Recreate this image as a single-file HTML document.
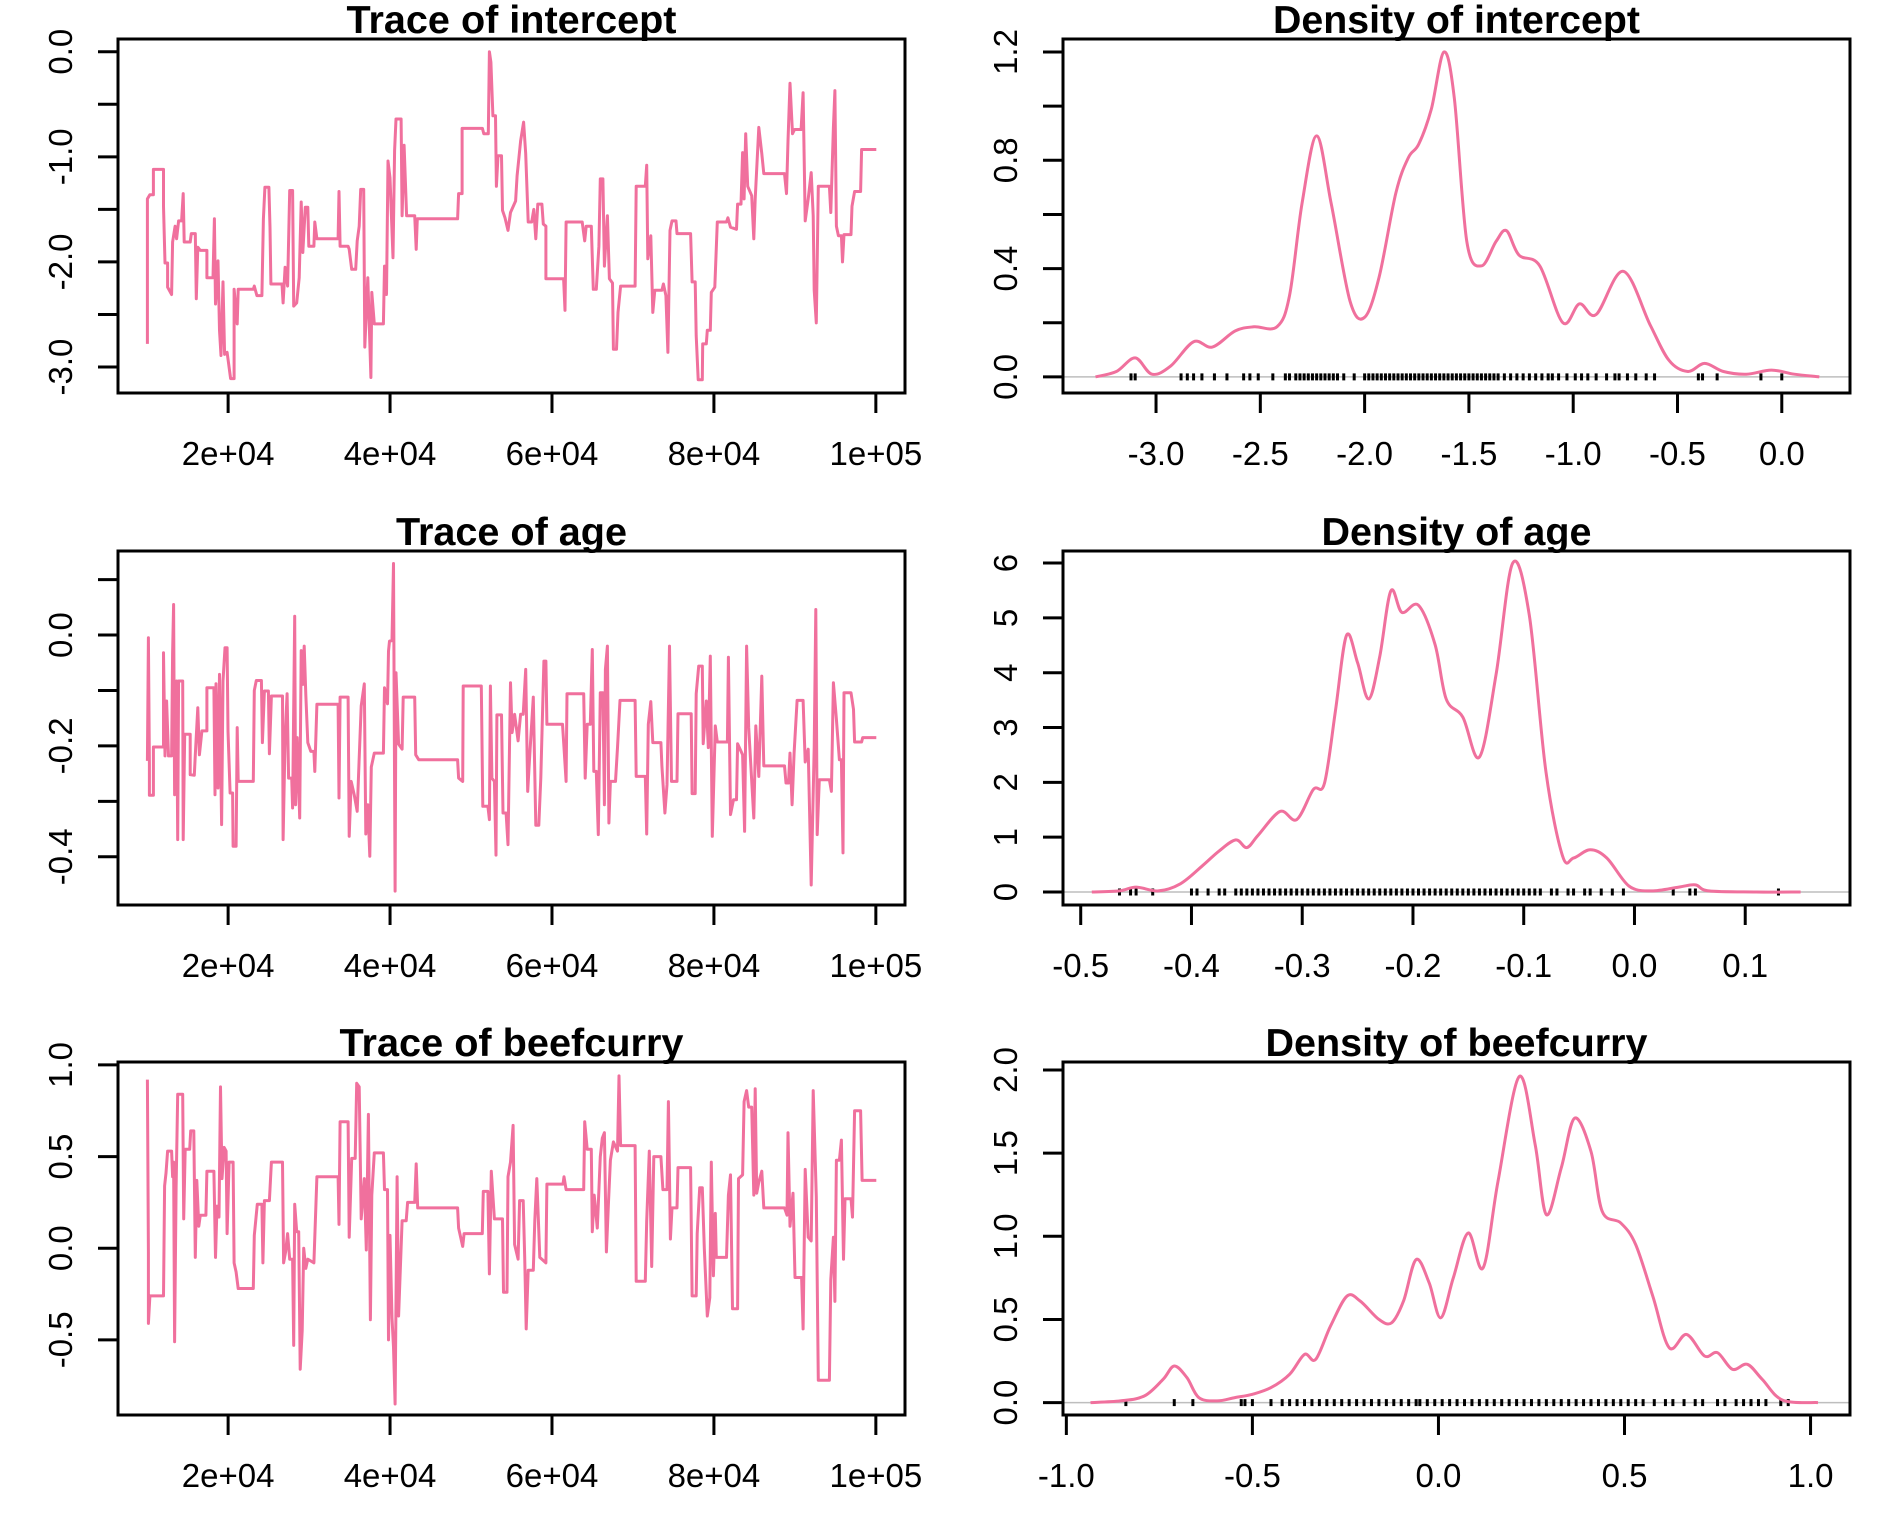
<!DOCTYPE html>
<html><head><meta charset="utf-8"><style>
html,body{margin:0;padding:0;background:#fff;}
svg{display:block;font-family:"Liberation Sans",sans-serif;}
</style></head><body>
<svg id="fig" width="1889" height="1535" viewBox="0 0 1889 1535" xmlns="http://www.w3.org/2000/svg"></svg>
<script>
// ---------- data ----------
const intIter=[10.03,10.03,10.34,10.77,10.77,12.02,12.02,12.21,12.52,12.52,13.02,13.14,13.45,13.64,13.89,14.26,14.45,14.58,15.32,15.45,15.95,16.07,16.26,16.57,17.38,17.38,18.13,18.31,18.44,18.75,18.94,19.12,19.37,19.56,19.87,20.31,20.74,20.74,21.12,21.24,23.11,23.24,23.55,24.17,24.36,24.54,25.04,25.17,25.29,26.66,26.79,27.04,27.35,27.60,27.97,28.10,28.47,28.78,29.03,29.22,29.53,29.84,29.96,30.59,30.71,30.96,33.58,33.70,33.83,34.82,34.95,35.26,35.76,35.94,36.19,36.38,36.75,36.88,37.25,37.63,37.75,38.06,39.18,39.31,39.56,39.75,40.00,40.37,40.56,40.74,41.37,41.49,41.74,42.05,43.05,43.23,43.36,48.34,48.47,48.90,48.90,51.40,51.58,52.14,52.27,52.45,52.70,53.02,53.14,53.33,53.76,53.89,54.20,54.57,54.88,55.51,55.69,56.13,56.50,56.75,57.06,57.50,57.75,58.00,58.25,58.75,58.93,59.25,59.25,61.43,61.61,61.74,63.73,64.04,64.23,64.85,65.10,65.47,65.79,65.97,66.29,66.47,66.85,67.09,67.47,67.59,67.97,68.15,68.47,70.27,70.40,71.52,71.70,71.83,72.20,72.45,72.70,73.57,73.76,74.07,74.32,74.57,74.82,75.32,75.44,77.12,77.31,77.69,77.81,78.06,78.56,78.62,79.06,79.18,79.55,79.68,80.11,80.42,81.55,81.73,82.05,82.79,82.92,83.35,83.54,83.73,83.92,84.17,84.67,84.92,85.10,85.54,85.91,86.16,88.72,88.96,89.15,89.40,89.71,89.96,90.77,91.02,91.27,91.64,92.01,92.26,92.39,92.64,92.89,94.26,94.44,94.76,94.94,95.13,95.38,95.75,95.88,96.07,96.93,97.06,97.37,98.12,98.24,100.05];
const intVal=[-2.78,-1.40,-1.36,-1.36,-1.12,-1.12,-1.47,-2.01,-2.01,-2.24,-2.31,-1.81,-1.66,-1.78,-1.61,-1.61,-1.35,-1.81,-1.81,-1.73,-1.73,-2.35,-1.86,-1.89,-1.89,-2.15,-2.15,-1.59,-2.40,-1.99,-2.65,-2.89,-2.19,-2.88,-2.86,-3.11,-3.11,-2.26,-2.59,-2.26,-2.26,-2.23,-2.32,-2.32,-1.59,-1.29,-1.29,-1.67,-2.21,-2.21,-2.39,-2.05,-2.23,-1.32,-1.32,-2.42,-2.39,-2.15,-1.43,-1.91,-1.48,-1.48,-1.85,-1.85,-1.62,-1.78,-1.78,-1.33,-1.85,-1.85,-1.88,-2.07,-2.07,-1.80,-1.66,-1.31,-1.31,-2.81,-2.15,-3.10,-2.29,-2.59,-2.59,-2.04,-2.31,-1.04,-1.20,-1.96,-0.94,-0.64,-0.64,-1.56,-0.89,-1.56,-1.56,-1.88,-1.59,-1.59,-1.35,-1.35,-0.73,-0.73,-0.78,-0.78,0.00,-0.10,-0.61,-0.61,-1.28,-0.99,-0.99,-1.51,-1.58,-1.70,-1.53,-1.42,-1.18,-0.85,-0.67,-0.97,-1.62,-1.62,-1.50,-1.78,-1.45,-1.45,-1.64,-1.66,-2.16,-2.16,-2.46,-1.62,-1.62,-1.80,-1.66,-1.66,-2.26,-2.26,-1.85,-1.21,-1.21,-2.04,-1.56,-2.16,-2.20,-2.83,-2.83,-2.48,-2.23,-2.23,-1.28,-1.28,-1.08,-1.97,-1.75,-2.48,-2.27,-2.27,-2.21,-2.32,-2.86,-1.70,-1.61,-1.61,-1.73,-1.73,-2.19,-2.19,-2.70,-3.12,-3.12,-2.78,-2.78,-2.65,-2.65,-2.29,-2.24,-1.62,-1.62,-1.58,-1.67,-1.69,-1.45,-1.45,-0.96,-1.40,-0.78,-1.28,-1.37,-1.78,-1.40,-0.72,-0.97,-1.16,-1.16,-1.35,-0.85,-0.30,-0.78,-0.74,-0.74,-0.39,-1.61,-1.40,-1.15,-1.56,-2.27,-2.58,-1.28,-1.28,-1.53,-0.72,-0.37,-1.66,-1.75,-1.75,-2.00,-1.74,-1.74,-1.47,-1.33,-1.33,-0.93,-0.93];

const ageIter=[10.03,10.15,10.28,10.28,10.77,10.77,12.02,12.02,12.21,12.40,12.64,13.02,13.14,13.27,13.39,13.64,13.77,13.89,14.39,14.45,14.64,15.32,15.32,15.82,15.95,16.26,16.45,16.76,17.38,17.38,18.25,18.38,18.50,18.75,18.94,19.19,19.37,19.62,19.87,19.99,20.24,20.56,20.62,20.99,21.12,21.24,23.11,23.24,23.48,24.11,24.23,24.48,24.98,25.10,25.35,26.72,26.79,27.04,27.29,27.47,27.85,27.97,28.22,28.34,28.53,28.84,29.03,29.22,29.40,29.59,29.84,30.21,30.59,30.71,30.96,33.58,33.70,33.83,34.82,34.95,35.20,35.57,35.94,36.19,36.44,36.82,37.00,37.25,37.50,37.69,38.06,39.18,39.31,39.68,39.81,39.93,40.24,40.43,40.62,40.74,41.05,41.49,41.62,42.30,43.05,43.17,43.55,48.34,48.47,48.97,49.03,51.27,51.46,52.08,52.27,52.39,52.58,52.89,53.08,53.20,53.76,53.95,54.33,54.57,54.88,55.07,55.38,55.82,56.13,56.44,56.75,57.00,57.25,57.69,58.00,58.37,58.62,59.00,59.25,59.37,61.30,61.49,61.74,61.86,63.92,64.10,64.35,64.73,64.98,65.16,65.47,65.72,65.97,66.29,66.47,66.60,66.85,67.03,67.22,67.84,68.09,68.40,70.27,70.40,71.52,71.70,71.89,72.20,72.45,73.45,73.57,73.95,74.20,74.51,74.76,75.44,75.57,77.19,77.31,77.69,77.81,78.12,78.56,78.68,79.06,79.31,79.55,79.80,80.17,80.42,81.67,81.79,82.05,82.42,82.79,82.92,83.54,83.79,84.04,84.29,84.92,85.17,85.54,85.91,86.16,88.72,88.90,89.21,89.40,89.65,89.90,90.27,91.02,91.27,91.64,92.01,92.39,92.58,92.76,93.01,94.26,94.51,94.76,95.13,95.50,95.75,95.94,96.07,96.93,97.24,97.37,98.24,98.37,100.05];
const ageVal=[-0.227,-0.005,-0.233,-0.289,-0.289,-0.202,-0.202,-0.032,-0.218,-0.119,-0.218,-0.218,-0.032,0.055,-0.288,-0.083,-0.369,-0.083,-0.083,-0.369,-0.179,-0.179,-0.252,-0.253,-0.216,-0.131,-0.216,-0.173,-0.173,-0.095,-0.095,-0.288,-0.088,-0.276,-0.071,-0.342,-0.083,-0.023,-0.023,-0.173,-0.285,-0.285,-0.381,-0.381,-0.167,-0.264,-0.264,-0.100,-0.082,-0.082,-0.194,-0.101,-0.101,-0.214,-0.110,-0.110,-0.369,-0.185,-0.106,-0.258,-0.258,-0.312,0.034,-0.306,-0.185,-0.330,-0.028,-0.089,-0.020,-0.107,-0.194,-0.210,-0.210,-0.246,-0.125,-0.125,-0.294,-0.112,-0.112,-0.363,-0.264,-0.288,-0.318,-0.222,-0.128,-0.088,-0.359,-0.306,-0.399,-0.238,-0.213,-0.213,-0.095,-0.124,-0.029,-0.011,-0.010,0.129,-0.462,-0.068,-0.197,-0.206,-0.112,-0.112,-0.112,-0.216,-0.225,-0.225,-0.258,-0.264,-0.092,-0.092,-0.309,-0.309,-0.333,-0.092,-0.258,-0.264,-0.397,-0.144,-0.144,-0.321,-0.321,-0.378,-0.086,-0.176,-0.143,-0.191,-0.143,-0.143,-0.062,-0.282,-0.218,-0.112,-0.343,-0.343,-0.258,-0.047,-0.047,-0.161,-0.161,-0.203,-0.264,-0.106,-0.106,-0.258,-0.161,-0.161,-0.026,-0.246,-0.246,-0.360,-0.104,-0.104,-0.306,-0.062,-0.020,-0.339,-0.264,-0.264,-0.203,-0.118,-0.118,-0.255,-0.255,-0.359,-0.161,-0.120,-0.194,-0.194,-0.236,-0.321,-0.270,-0.020,-0.264,-0.264,-0.142,-0.142,-0.286,-0.286,-0.106,-0.056,-0.056,-0.196,-0.119,-0.203,-0.038,-0.363,-0.164,-0.193,-0.193,-0.040,-0.324,-0.297,-0.297,-0.196,-0.216,-0.354,-0.020,-0.167,-0.330,-0.164,-0.255,-0.074,-0.236,-0.236,-0.267,-0.267,-0.213,-0.306,-0.213,-0.118,-0.118,-0.229,-0.206,-0.451,-0.203,0.046,-0.360,-0.261,-0.261,-0.282,-0.086,-0.152,-0.225,-0.225,-0.393,-0.104,-0.104,-0.134,-0.193,-0.193,-0.185,-0.185];

const beefIter=[10.03,10.15,10.15,10.34,12.02,12.15,12.33,12.52,13.02,13.14,13.27,13.39,13.58,13.77,14.39,14.51,14.70,15.26,15.38,15.76,15.95,16.13,16.38,16.57,17.26,17.38,18.25,18.44,18.63,18.88,19.06,19.25,19.50,19.75,19.87,20.12,20.62,20.74,20.99,21.24,23.11,23.24,23.61,24.17,24.30,24.48,25.10,25.35,26.72,26.85,27.10,27.35,27.60,27.97,28.10,28.22,28.47,28.72,28.90,29.15,29.34,29.59,29.84,30.59,30.96,33.58,33.70,33.83,34.82,34.95,35.26,35.70,35.88,36.19,36.44,36.82,37.07,37.32,37.57,37.75,38.06,39.18,39.31,39.68,39.81,40.00,40.24,40.43,40.62,40.87,41.05,41.49,41.99,42.17,43.05,43.23,43.42,48.34,48.47,48.97,49.15,51.39,51.52,52.08,52.27,52.51,52.89,53.89,54.01,54.45,54.57,54.88,55.20,55.38,55.82,56.00,56.44,56.63,56.82,57.06,57.69,57.88,58.13,58.50,59.25,59.37,61.36,61.49,61.74,63.92,64.04,64.35,64.85,64.98,65.22,65.60,65.97,66.22,66.47,66.72,66.97,67.22,67.59,68.09,68.28,68.47,70.27,70.40,71.52,71.70,72.02,72.32,72.57,73.45,73.70,74.20,74.38,74.63,74.82,75.44,75.57,77.12,77.31,77.81,77.94,78.25,78.56,78.81,79.18,79.49,79.68,79.93,80.17,80.30,81.55,81.79,82.05,82.30,82.92,83.04,83.54,83.73,84.04,84.29,84.67,84.92,85.10,85.29,85.54,85.91,86.16,88.72,89.03,89.15,89.40,89.77,90.02,90.83,91.02,91.27,91.64,92.01,92.26,92.64,92.89,94.26,94.44,94.76,94.94,95.13,95.50,95.75,96.00,96.19,96.93,97.12,97.37,98.12,98.30,100.05];
const beefVal=[0.92,-0.02,-0.41,-0.26,-0.26,0.34,0.41,0.53,0.53,0.39,0.47,-0.51,0.33,0.84,0.84,0.16,0.54,0.54,0.64,0.64,-0.05,0.37,0.12,0.18,0.18,0.42,0.42,-0.05,0.23,0.17,0.88,0.38,0.55,0.53,0.08,0.47,0.47,-0.08,-0.13,-0.22,-0.22,0.07,0.24,0.24,-0.08,0.26,0.26,0.47,0.47,-0.08,-0.02,0.08,-0.06,-0.06,-0.53,0.24,0.09,0.09,-0.66,-0.45,0.00,-0.11,-0.06,-0.08,0.39,0.39,0.13,0.69,0.69,0.06,0.49,0.49,0.90,0.88,0.16,0.38,-0.01,0.73,-0.39,0.29,0.52,0.52,0.32,0.32,-0.50,0.07,-0.38,-0.54,-0.85,0.39,-0.37,0.15,0.15,0.25,0.25,0.46,0.22,0.22,0.11,0.01,0.08,0.08,0.31,0.31,-0.14,0.42,0.16,0.16,-0.24,-0.24,0.39,0.47,0.67,0.02,-0.06,0.26,0.26,-0.05,-0.44,-0.12,-0.12,0.15,0.38,-0.05,-0.08,0.35,0.35,0.39,0.32,0.32,0.69,0.54,0.54,0.09,0.29,0.11,0.50,0.60,0.63,-0.02,0.24,0.48,0.58,0.53,0.94,0.56,0.56,-0.18,-0.18,0.15,0.53,-0.10,0.50,0.50,0.32,0.32,0.80,0.05,0.22,0.22,0.44,0.44,-0.26,-0.26,0.08,0.33,0.33,0.00,-0.37,-0.27,0.47,-0.15,0.19,-0.05,-0.05,0.29,0.40,-0.33,-0.33,0.38,0.40,0.80,0.86,0.77,0.77,0.29,0.87,0.30,0.36,0.42,0.22,0.22,0.18,0.63,0.12,0.30,-0.16,-0.16,-0.44,0.43,0.06,0.04,0.86,0.28,-0.72,-0.72,-0.17,0.06,-0.29,0.48,0.48,0.59,-0.06,0.27,0.27,0.17,0.75,0.75,0.37,0.37];

const intDensX=[-3.29,-3.19,-3.10,-3.02,-2.93,-2.82,-2.73,-2.62,-2.53,-2.42,-2.36,-2.30,-2.23,-2.16,-2.07,-2.00,-1.93,-1.85,-1.79,-1.74,-1.68,-1.62,-1.57,-1.51,-1.44,-1.37,-1.32,-1.26,-1.16,-1.05,-0.97,-0.89,-0.76,-0.63,-0.54,-0.45,-0.37,-0.28,-0.17,-0.05,0.06,0.18];
const intDensY=[0,0.02,0.07,0.01,0.04,0.13,0.11,0.17,0.185,0.185,0.30,0.64,0.89,0.64,0.28,0.22,0.37,0.68,0.81,0.86,0.99,1.20,1.03,0.50,0.41,0.50,0.54,0.45,0.41,0.20,0.27,0.23,0.39,0.19,0.06,0.02,0.05,0.02,0.01,0.025,0.01,0];
const ageDensX=[-0.49,-0.465,-0.45,-0.43,-0.41,-0.39,-0.375,-0.36,-0.35,-0.34,-0.32,-0.305,-0.29,-0.28,-0.27,-0.26,-0.25,-0.24,-0.23,-0.22,-0.21,-0.195,-0.18,-0.17,-0.155,-0.14,-0.125,-0.11,-0.095,-0.08,-0.065,-0.055,-0.04,-0.025,-0.005,0.015,0.04,0.055,0.067,0.11,0.15];
const ageDensY=[0,0.02,0.09,0.02,0.15,0.48,0.75,0.95,0.81,1.03,1.47,1.32,1.87,1.98,3.30,4.68,4.18,3.52,4.29,5.49,5.10,5.23,4.51,3.52,3.19,2.46,3.96,6.00,5.05,2.20,0.66,0.62,0.77,0.62,0.11,0.02,0.09,0.13,0.02,0,0];
const beefDensX=[-0.935,-0.855,-0.79,-0.74,-0.71,-0.676,-0.644,-0.595,-0.547,-0.50,-0.45,-0.40,-0.36,-0.33,-0.29,-0.246,-0.21,-0.16,-0.126,-0.094,-0.06,-0.025,0.006,0.04,0.08,0.12,0.16,0.217,0.26,0.29,0.33,0.366,0.41,0.44,0.49,0.53,0.576,0.62,0.667,0.715,0.75,0.79,0.83,0.87,0.925,1.02];
const beefDensY=[0,0.01,0.04,0.14,0.22,0.15,0.03,0.01,0.03,0.05,0.09,0.17,0.29,0.26,0.46,0.64,0.61,0.50,0.48,0.61,0.86,0.72,0.51,0.75,1.02,0.81,1.33,1.96,1.55,1.13,1.41,1.71,1.51,1.15,1.08,0.95,0.64,0.33,0.41,0.28,0.30,0.20,0.23,0.14,0.015,0];

const intRug=[-3.12,-3.10,-2.88,-2.85,-2.82,-2.78,-2.72,-2.66,-2.58,-2.55,-2.51,-2.44,-2.38,-2.36,-2.33,-2.31,-2.29,-2.27,-2.25,-2.23,-2.21,-2.19,-2.17,-2.15,-2.13,-2.10,-2.05,-2.00,-1.98,-1.96,-1.94,-1.92,-1.90,-1.88,-1.86,-1.84,-1.82,-1.80,-1.78,-1.76,-1.74,-1.72,-1.70,-1.68,-1.66,-1.64,-1.62,-1.60,-1.58,-1.56,-1.54,-1.52,-1.50,-1.48,-1.46,-1.44,-1.42,-1.40,-1.38,-1.36,-1.33,-1.30,-1.27,-1.24,-1.21,-1.18,-1.15,-1.12,-1.10,-1.07,-1.03,-0.99,-0.96,-0.93,-0.89,-0.84,-0.80,-0.78,-0.74,-0.70,-0.65,-0.61,-0.40,-0.38,-0.31,-0.10,0.00];
const ageRug=[-0.465,-0.455,-0.45,-0.435,-0.40,-0.395,-0.385,-0.375,-0.37,-0.36,-0.355,-0.35,-0.345,-0.34,-0.335,-0.33,-0.325,-0.32,-0.315,-0.31,-0.305,-0.30,-0.295,-0.29,-0.285,-0.28,-0.275,-0.27,-0.265,-0.26,-0.255,-0.25,-0.245,-0.24,-0.235,-0.23,-0.225,-0.22,-0.215,-0.21,-0.205,-0.2,-0.195,-0.19,-0.185,-0.18,-0.175,-0.17,-0.165,-0.16,-0.155,-0.15,-0.145,-0.14,-0.135,-0.13,-0.125,-0.12,-0.115,-0.11,-0.105,-0.1,-0.095,-0.09,-0.085,-0.075,-0.07,-0.06,-0.055,-0.045,-0.04,-0.03,-0.02,-0.01,0.035,0.05,0.055,0.13];
const beefRug=[-0.84,-0.71,-0.66,-0.53,-0.52,-0.50,-0.45,-0.42,-0.40,-0.38,-0.36,-0.34,-0.32,-0.30,-0.28,-0.26,-0.24,-0.22,-0.20,-0.18,-0.16,-0.14,-0.12,-0.10,-0.08,-0.06,-0.05,-0.03,-0.01,0.01,0.03,0.05,0.07,0.09,0.11,0.13,0.15,0.17,0.19,0.21,0.23,0.25,0.27,0.29,0.31,0.33,0.35,0.37,0.39,0.41,0.43,0.45,0.47,0.49,0.51,0.53,0.55,0.58,0.61,0.63,0.66,0.69,0.71,0.75,0.77,0.80,0.82,0.84,0.86,0.88,0.92,0.94];

const traceXTicks=[20,40,60,80,100];
const traceXLabels=["2e+04","4e+04","6e+04","8e+04","1e+05"];
const intYTicks=[-3,-2.5,-2,-1.5,-1,-0.5,0];
const intYLabels=["-3.0","","-2.0","","-1.0","","0.0"];
const ageYTicks=[-0.4,-0.3,-0.2,-0.1,0,0.1];
const ageYLabels=["-0.4","","-0.2","","0.0",""];
const beefYTicks=[-0.5,0,0.5,1];
const beefYLabels=["-0.5","0.0","0.5","1.0"];
const intDXTicks=[-3,-2.5,-2,-1.5,-1,-0.5,0];
const intDXLabels=["-3.0","-2.5","-2.0","-1.5","-1.0","-0.5","0.0"];
const intDYTicks=[0,0.2,0.4,0.6,0.8,1.0,1.2];
const intDYLabels=["0.0","","0.4","","0.8","","1.2"];
const ageDXTicks=[-0.5,-0.4,-0.3,-0.2,-0.1,0,0.1];
const ageDXLabels=["-0.5","-0.4","-0.3","-0.2","-0.1","0.0","0.1"];
const ageDYTicks=[0,1,2,3,4,5,6];
const ageDYLabels=["0","1","2","3","4","5","6"];
const beefDXTicks=[-1,-0.5,0,0.5,1];
const beefDXLabels=["-1.0","-0.5","0.0","0.5","1.0"];
const beefDYTicks=[0,0.5,1,1.5,2];
const beefDYLabels=["0.0","0.5","1.0","1.5","2.0"];

// ---------- drawing ----------
const NS="http://www.w3.org/2000/svg";
const svg=document.getElementById('fig');
const PINK="#F0709D";
function mk(tag,attrs,parent){const e=document.createElementNS(NS,tag);for(const k in attrs)e.setAttribute(k,attrs[k]);(parent||svg).appendChild(e);return e;}

function panel(o){
  const g=mk('g',{});
  
  
  const L=o.box[0],T=o.box[1],R=o.box[2],B=o.box[3];
  const sx=v=>L+(v-o.xd[0])/(o.xd[1]-o.xd[0])*(R-L);
  const sy=v=>B-(v-o.yd[0])/(o.yd[1]-o.yd[0])*(B-T);
  const t=mk('text',{x:(L+R)/2,y:T-6,'text-anchor':'middle','font-size':39,'font-weight':'bold',fill:'#000',textLength:o.tw,lengthAdjust:'spacingAndGlyphs'},g);
  t.textContent=o.title;
  
  
  if(o.rug){
    const z=mk('line',{x1:L,x2:R,y1:sy(0),y2:sy(0),stroke:'#BEBEBE','stroke-width':1.5},g);
    
    
    const rg=mk('g',{},g);
    
    
    o.rug.forEach(v=>{mk('line',{x1:sx(v),x2:sx(v),y1:sy(0)-3.5,y2:sy(0)+3.5,stroke:'#000','stroke-width':3},rg);});
  }
  const P=o.xs.map((x,i)=>[sx(x),sy(o.ys[i])]);
  let d='M'+P[0][0].toFixed(1)+','+P[0][1].toFixed(1);
  if(o.smooth){
    for(let i=0;i<P.length-1;i++){
      const p0=P[Math.max(0,i-1)],p1=P[i],p2=P[i+1],p3=P[Math.min(P.length-1,i+2)];
      const c1=[p1[0]+(p2[0]-p0[0])/6,p1[1]+(p2[1]-p0[1])/6];
      const c2=[p2[0]-(p3[0]-p1[0])/6,p2[1]-(p3[1]-p1[1])/6];
      d+='C'+c1[0].toFixed(1)+','+c1[1].toFixed(1)+' '+c2[0].toFixed(1)+','+c2[1].toFixed(1)+' '+p2[0].toFixed(1)+','+p2[1].toFixed(1);
    }
  } else {
    for(let i=1;i<P.length;i++)d+='L'+P[i][0].toFixed(1)+','+P[i][1].toFixed(1);
  }
  const p=mk('path',{d:d,fill:'none',stroke:PINK,'stroke-width':3,'stroke-linejoin':'round'},g);
  
  
  const bx=mk('rect',{x:L,y:T,width:R-L,height:B-T,fill:'none',stroke:'#000','stroke-width':3},g);
  
  
  const xa=mk('g',{},g);
  
  
  mk('line',{x1:sx(o.xt[0]),x2:sx(o.xt[o.xt.length-1]),y1:B,y2:B,stroke:'#000','stroke-width':3},xa);
  o.xt.forEach((v,i)=>{
    mk('line',{x1:sx(v),x2:sx(v),y1:B,y2:B+20,stroke:'#000','stroke-width':3},xa);
    const tx=mk('text',{x:sx(v),y:B+72,'text-anchor':'middle','font-size':33,fill:'#000'},xa);
    tx.textContent=o.xl[i];
    
    
  });
  const ya=mk('g',{},g);
  
  
  mk('line',{x1:L,x2:L,y1:sy(o.yt[0]),y2:sy(o.yt[o.yt.length-1]),stroke:'#000','stroke-width':3},ya);
  o.yt.forEach((v,i)=>{
    mk('line',{x1:L-20,x2:L,y1:sy(v),y2:sy(v),stroke:'#000','stroke-width':3},ya);
    if(o.yl[i]){
      const x=L-46,y=sy(v);
      const tx=mk('text',{x:x,y:y,'text-anchor':'middle','font-size':33,fill:'#000',transform:'rotate(-90 '+x+' '+y+')'},ya);
      tx.textContent=o.yl[i];
      
      
    }
  });
}

const LX=[118,905], RX=[1063,1850];
const rows=[[39,393],[551,905],[1062,1415]];
panel({name:'trace-intercept',title:'Trace of intercept',tw:330,box:[LX[0],rows[0][0],LX[1],rows[0][1]],xd:[6.4,103.6],yd:[-3.247,0.121],xs:intIter,ys:intVal,xt:traceXTicks,xl:traceXLabels,yt:intYTicks,yl:intYLabels});
panel({name:'density-intercept',title:'Density of intercept',tw:367,smooth:true,box:[RX[0],rows[0][0],RX[1],rows[0][1]],xd:[-3.446,0.327],yd:[-0.0595,1.248],xs:intDensX,ys:intDensY,xt:intDXTicks,xl:intDXLabels,yt:intDYTicks,yl:intDYLabels,rug:intRug});
panel({name:'trace-age',title:'Trace of age',tw:231,box:[LX[0],rows[1][0],LX[1],rows[1][1]],xd:[6.4,103.6],yd:[-0.487,0.1516],xs:ageIter,ys:ageVal,xt:traceXTicks,xl:traceXLabels,yt:ageYTicks,yl:ageYLabels});
panel({name:'density-age',title:'Density of age',tw:270,smooth:true,box:[RX[0],rows[1][0],RX[1],rows[1][1]],xd:[-0.516,0.1946],yd:[-0.237,6.22],xs:ageDensX,ys:ageDensY,xt:ageDXTicks,xl:ageDXLabels,yt:ageDYTicks,yl:ageDYLabels,rug:ageRug});
panel({name:'trace-beefcurry',title:'Trace of beefcurry',tw:344,box:[LX[0],rows[2][0],LX[1],rows[2][1]],xd:[6.4,103.6],yd:[-0.91,1.016],xs:beefIter,ys:beefVal,xt:traceXTicks,xl:traceXLabels,yt:beefYTicks,yl:beefYLabels});
panel({name:'density-beefcurry',title:'Density of beefcurry',tw:382,smooth:true,box:[RX[0],rows[2][0],RX[1],rows[2][1]],xd:[-1.009,1.106],yd:[-0.0746,2.048],xs:beefDensX,ys:beefDensY,xt:beefDXTicks,xl:beefDXLabels,yt:beefDYTicks,yl:beefDYLabels,rug:beefRug});
</script>
</body></html>
